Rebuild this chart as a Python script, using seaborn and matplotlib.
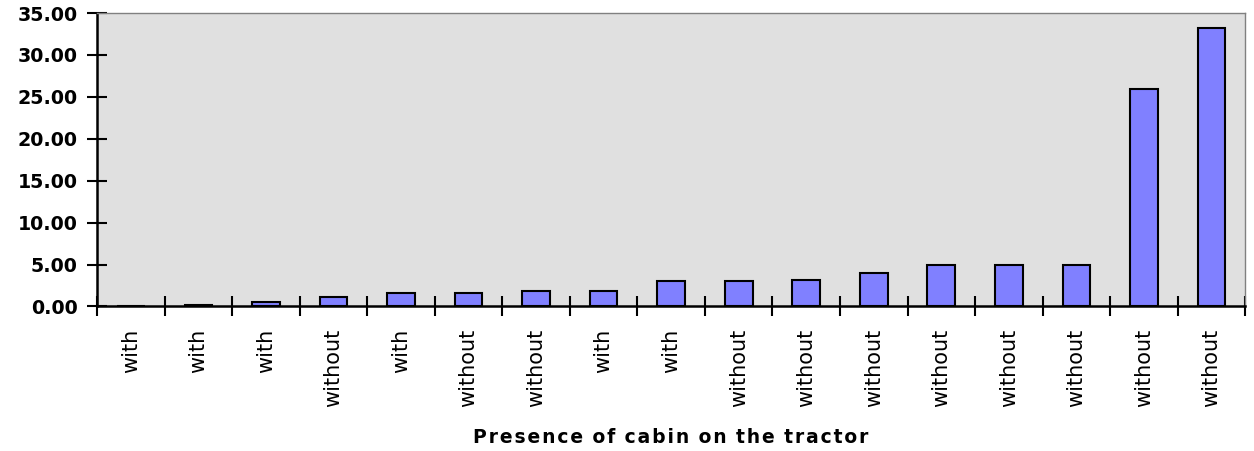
import matplotlib
matplotlib.use("Agg")
import matplotlib.pyplot as plt
import numpy as np
import seaborn as sns
from matplotlib.ticker import FixedLocator

# data
cabin = ["with", "with", "with", "without", "with", "without", "without", "with",
         "with", "without", "without", "without", "without", "without", "without",
         "without", "without"]
values = [0.0, 0.2, 0.5, 1.1, 1.6, 1.6, 1.9, 1.9, 3.0, 3.0, 3.2, 4.0, 5.0, 5.0,
          5.0, 26.0, 33.2]
y_ticks = [0, 5, 10, 15, 20, 25, 30, 35]
x_title = "Presence of cabin on the tractor"

sns.set_style("white")
plt.rcParams["font.family"] = ["DejaVu Sans"]
plt.rcParams.update({"text.color": "black", "axes.labelcolor": "black",
                     "xtick.color": "black", "ytick.color": "black"})

fig = plt.figure(figsize=(12.54, 4.51), dpi=100)
ax = fig.add_axes([0.0774, 0.3204, 0.9156, 0.6506])
ax.set_facecolor("#e0e0e0")

pos = list(range(len(values)))
sns.barplot(x=pos, y=values, order=pos, color="#8080ff", saturation=1,
            edgecolor="black", linewidth=1.5, width=0.41, ax=ax)

ax.set_xlim(-0.5, len(values) - 0.5)
ax.set_ylim(0, 35)
ax.set_yticks(y_ticks)
ax.set_yticklabels([f"{v:.2f}" for v in y_ticks], fontsize=13.7, fontweight="bold")
ax.set_xticks(pos)
ax.set_xticklabels(cabin, rotation=90, fontsize=15)
ax.xaxis.set_minor_locator(FixedLocator(np.arange(-0.5, len(values), 1.0)))
ax.tick_params(axis="x", which="major", length=0, pad=16)
ax.tick_params(axis="x", which="minor", direction="inout", length=14, width=1.5,
               color="black", bottom=True)
ax.tick_params(axis="y", direction="inout", length=14, width=1.5, left=True,
               color="black", pad=7)

for side in ["left", "bottom"]:
    ax.spines[side].set_color("black")
    ax.spines[side].set_linewidth(1.8)
for side in ["top", "right"]:
    ax.spines[side].set_color("#808080")
    ax.spines[side].set_linewidth(1.0)

# the original title has wide letter spacing
spaced = "\u200a".join(x_title).replace("\u200a \u200a", "\u2002")
ax.set_xlabel(spaced, fontsize=13.5, fontweight="bold", labelpad=15,
              color="black")
ax.set_ylabel("")

fig.savefig("out.png", dpi=100)
